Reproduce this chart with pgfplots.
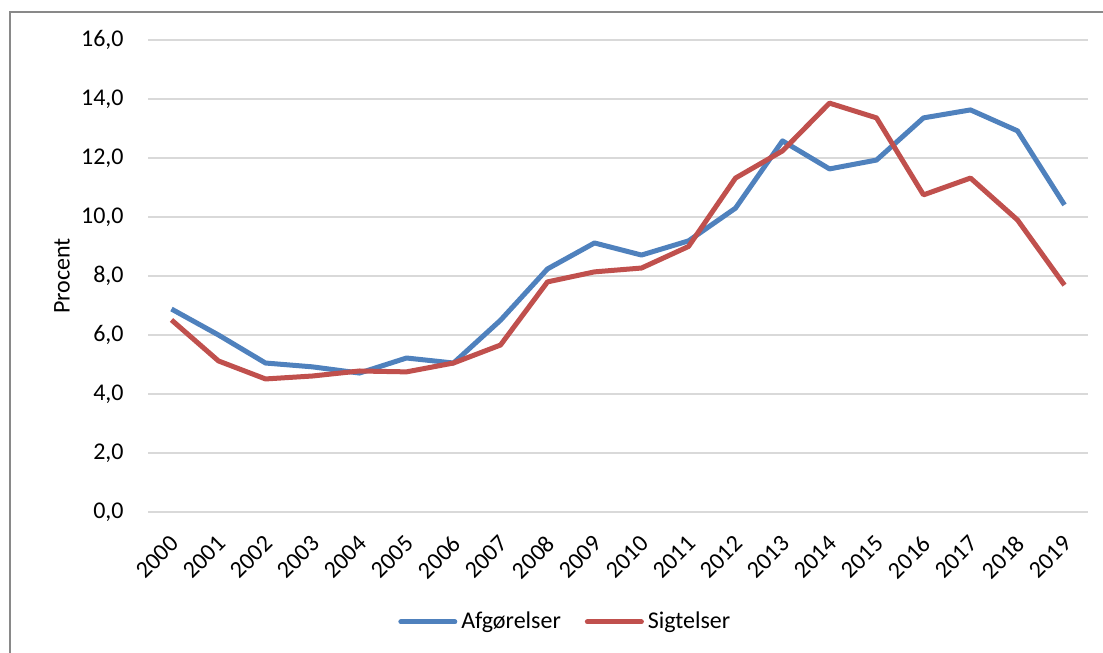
\documentclass[border=0pt]{standalone}
\usepackage{fontspec}
\setmainfont{Carlito}
\usepackage{pgfplots}
\pgfplotsset{compat=1.18}
\definecolor{cblue}{HTML}{4F81BD}
\definecolor{cred}{HTML}{C0504D}
\definecolor{cgrid}{HTML}{D9D9D9}
\definecolor{cframe}{HTML}{898989}
\begin{document}
\fontsize{12pt}{14pt}\selectfont
\begin{tikzpicture}
\useasboundingbox (0,0) rectangle (551.5pt,326.5pt);
\draw[cframe, line width=1pt] (5pt,0pt) -- (5pt,320.5pt) -- (551.5pt,320.5pt);
\begin{axis}[
  at={(74pt,70.5pt)}, anchor=south west,
  width=470pt, height=236pt, scale only axis,
  xmin=-0.5, xmax=19.5, ymin=0, ymax=16,
  axis line style={draw=none},
  major tick length=0pt,
  ytick={0,2,...,16},
  ymajorgrids, grid style={cgrid, line width=0.75pt},
  xtick={0,...,19},
  xticklabels={2000,2001,2002,2003,2004,2005,2006,2007,2008,2009,2010,2011,2012,2013,2014,2015,2016,2017,2018,2019},
  xticklabel style={xshift=4.5pt, yshift=-11pt, rotate=45, anchor=east},
  yticklabel style={/pgf/number format/fixed, /pgf/number format/fixed zerofill, /pgf/number format/precision=1, /pgf/number format/use comma, /pgf/number format/assume math mode=true, xshift=-8pt},
  ylabel={Procent},
  ylabel style={at={(axis description cs:-0.0915,0.5)}, anchor=center},
  tick label style={font=\fontsize{12pt}{14pt}\selectfont},
  label style={font=\fontsize{12pt}{14pt}\selectfont},
  legend style={at={(0.445,-0.233)}, anchor=center, draw=none, fill=none, legend columns=2,
    font=\fontsize{12pt}{14pt}\selectfont, /tikz/every even column/.append style={column sep=10pt}},
  legend image code/.code={\draw[#1, line cap=round] (0pt,0pt) -- (27pt,0pt);},
  every axis plot/.append style={line width=2.5pt, line join=round},
  clip=false,
]
\addplot[cblue, mark=none] coordinates {
(0,6.88) (1,6.0) (2,5.05) (3,4.92) (4,4.71) (5,5.22) (6,5.05) (7,6.5) (8,8.24) (9,9.12)
(10,8.71) (11,9.19) (12,10.3) (13,12.58) (14,11.63) (15,11.93) (16,13.36) (17,13.63) (18,12.92) (19,10.41)};
\addlegendentry{Afgørelser}
\addplot[cred, mark=none] coordinates {
(0,6.51) (1,5.12) (2,4.51) (3,4.61) (4,4.78) (5,4.75) (6,5.05) (7,5.66) (8,7.8) (9,8.14)
(10,8.27) (11,9.0) (12,11.32) (13,12.24) (14,13.86) (15,13.36) (16,10.75) (17,11.32) (18,9.9) (19,7.69)};
\addlegendentry{Sigtelser}
\end{axis}
\end{tikzpicture}
\end{document}
